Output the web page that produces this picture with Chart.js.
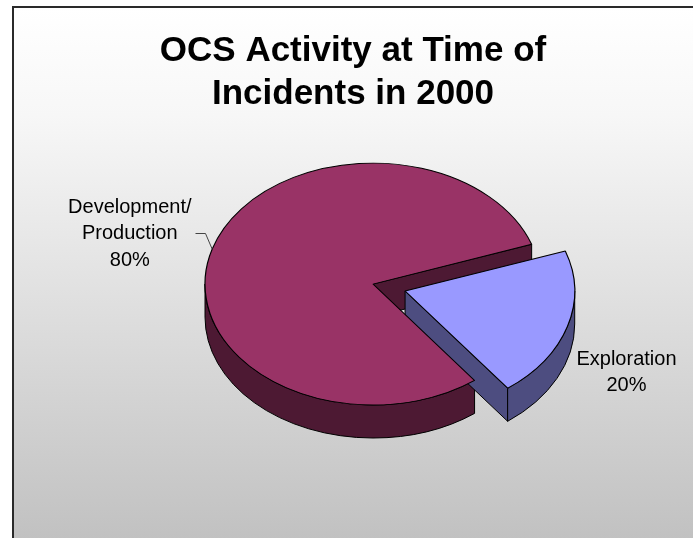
<!DOCTYPE html>
<html>
<head>
<meta charset="utf-8">
<script src="https://cdn.jsdelivr.net/npm/chart.js@4.4.1/dist/chart.umd.min.js"></script>
<style>
    html, body { margin: 0; padding: 0; background: #ffffff; overflow: hidden; }
    #frame {
        position: absolute; left: 12px; top: 6px; width: 700px; height: 540px;
        border-left: 2px solid #2a2a2a; border-top: 2px solid #2a2a2a;
        background: linear-gradient(to bottom, #ffffff 0%, #f7f7f7 20%, #c0c0c0 100%);
    }
    #wrap { position: absolute; left: 0; top: 0; width: 693px; height: 538px; }
</style>
</head>
<body>
<div id="frame"></div>
<div id="wrap"><canvas id="activityChart" width="693" height="538"></canvas></div>
<script>
// OCS activity at time of incidents, 2000
const categories = ['Development/Production', 'Exploration'];
const shares = [80, 20];
const labelLines = [['Development/', 'Production'], ['Exploration']];
const topColors = ['#993366', '#9999FF'];
const sideColors = ['#4D1933', '#4D4D80'];

const FONT = "'Liberation Sans', Arial, Helvetica, sans-serif";

// Fake 3D pie: Chart.js draws the slice tops, squashed by the tilt,
// the plugin adds the walls below them and the outside labels
const pie3d = {
    id: 'pie3d',

    geometry(chart, arc, opts) {
        const first = chart.getDatasetMeta(0).data[0];
        const k = opts.tilt;
        const off = (arc.options.offset || 0) / 4;
        const circ = arc.endAngle - arc.startAngle;
        const mid = (arc.startAngle + arc.endAngle) / 2;
        const R = arc.outerRadius + off * (1 - Math.sin(Math.min(Math.PI, circ)));
        const x = first.x + opts.shiftX + Math.cos(mid) * off;
        const y = first.y + Math.sin(mid) * off * k;
        return {
            x: x, y: y, R: R, k: k, mid: mid,
            a0: arc.startAngle, a1: arc.endAngle,
            rim: a => ({ x: x + R * Math.cos(a), y: y + R * k * Math.sin(a) })
        };
    },

    beforeDatasetsDraw(chart, args, opts) {
        const ctx = chart.ctx;
        const arcs = chart.getDatasetMeta(0).data;
        const d = opts.depth;

        ctx.save();
        ctx.lineWidth = 1;
        ctx.strokeStyle = '#000';
        ctx.lineJoin = 'round';
        arcs.forEach((arc, i) => {
            const g = this.geometry(chart, arc, opts);
            ctx.fillStyle = sideColors[i];

            // cut walls that face the viewer
            const walls = [];
            if (Math.cos(g.a0) < 0) walls.push(g.a0);
            if (Math.cos(g.a1) > 0) walls.push(g.a1);
            walls.forEach(a => {
                const p = g.rim(a);
                ctx.beginPath();
                ctx.moveTo(g.x, g.y);
                ctx.lineTo(p.x, p.y);
                ctx.lineTo(p.x, p.y + d);
                ctx.lineTo(g.x, g.y + d);
                ctx.closePath();
                ctx.fill();
                ctx.stroke();
            });

            // outer wall on the front half
            for (let n = -1; n <= 2; n++) {
                const lo = Math.max(g.a0, 2 * Math.PI * n);
                const hi = Math.min(g.a1, 2 * Math.PI * n + Math.PI);
                if (hi <= lo) continue;
                ctx.beginPath();
                ctx.ellipse(g.x, g.y, g.R, g.R * g.k, 0, lo, hi);
                ctx.ellipse(g.x, g.y + d, g.R, g.R * g.k, 0, hi, lo, true);
                ctx.closePath();
                ctx.fill();
                ctx.stroke();
            }
        });
        ctx.restore();

        // tilt the tops drawn by Chart.js
        const first = arcs[0];
        ctx.save();
        ctx.translate(first.x + opts.shiftX, first.y);
        ctx.scale(1, opts.tilt);
        ctx.translate(-first.x, -first.y);
    },

    afterDatasetsDraw(chart) {
        chart.ctx.restore();
    },

    afterDraw(chart, args, opts) {
        const ctx = chart.ctx;
        const arcs = chart.getDatasetMeta(0).data;
        const total = shares.reduce((a, b) => a + b, 0);

        ctx.save();
        ctx.font = '20px ' + FONT;
        ctx.fillStyle = '#000';
        ctx.textAlign = 'center';
        ctx.textBaseline = 'middle';
        arcs.forEach((arc, i) => {
            const g = this.geometry(chart, arc, opts);
            const p = g.rim(g.mid);
            const place = opts.labels[i];
            const lines = labelLines[i].concat([Math.round(shares[i] / total * 100) + '%']);
            const maxW = Math.max(...lines.map(t => ctx.measureText(t).width));
            let bx, by;
            if (place.leader) {
                const ex = Math.round(p.x + place.dx) + 0.5, ey = Math.round(p.y + place.dy) + 0.5;
                ctx.beginPath();
                ctx.strokeStyle = '#444';
                ctx.lineWidth = 1;
                ctx.moveTo(p.x, p.y);
                ctx.lineTo(ex, ey);
                ctx.lineTo(ex - place.run, ey);
                ctx.stroke();
                bx = ex - place.run - 4 - maxW / 2;
                by = ey;
            } else {
                bx = p.x + place.dx;
                by = p.y + place.dy;
            }
            const lh = opts.lineHeight;
            const y0 = by - (lines.length - 1) * lh / 2;
            lines.forEach((t, j) => ctx.fillText(t, bx, y0 + j * lh));
        });
        ctx.restore();
    }
};

document.addEventListener('DOMContentLoaded', function () {
    const ctx = document.getElementById('activityChart');

    new Chart(ctx, {
        type: 'pie',
        data: {
            labels: categories,
            datasets: [{
                data: shares,
                backgroundColor: topColors,
                borderColor: '#000000',
                borderWidth: 1.2,
                offset: [0, 134],
                clip: false
            }]
        },
        options: {
            responsive: false,
            animation: false,
            events: [],
            rotation: 142.8,
            radius: 168,
            layout: {
                padding: { left: 13, right: 0, top: 0, bottom: 105.5 }
            },
            plugins: {
                legend: { display: false },
                tooltip: { enabled: false },
                title: {
                    display: true,
                    text: ['OCS Activity at Time of', 'Incidents in 2000'],
                    color: '#000000',
                    font: { family: FONT, size: 35, weight: 'bold', lineHeight: 1.23 },
                    padding: { top: 29.5, bottom: 20 }
                },
                pie3d: {
                    tilt: 0.72,
                    depth: 33,
                    shiftX: 20,
                    lineHeight: 26.5,
                    labels: [
                        { leader: true, dx: -7, dy: -16, run: 10 },
                        { leader: false, dx: 59, dy: 46 }
                    ]
                }
            }
        },
        plugins: [pie3d]
    });
});
</script>
</body>
</html>
